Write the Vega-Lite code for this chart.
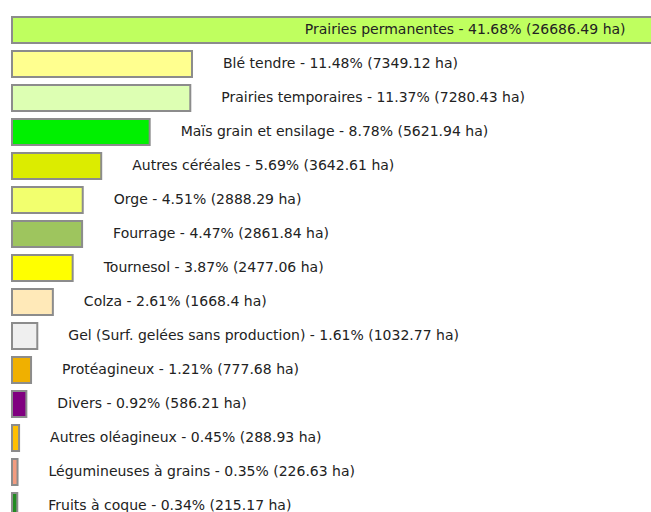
{
  "$schema": "https://vega.github.io/schema/vega-lite/v6.json",
  "width": 639,
  "height": 512,
  "padding": {"left": 12, "top": 0, "right": 0, "bottom": 0},
  "autosize": {"type": "none"},
  "background": "white",
  "config": {"view": {"stroke": null}},
  "data": {
    "values": [
      {"culture": "Prairies permanentes", "ha": 26686.49, "label": "Prairies permanentes - 41.68% (26686.49 ha)", "color": "#bfff5f"},
      {"culture": "Blé tendre", "ha": 7349.12, "label": "Blé tendre - 11.48% (7349.12 ha)", "color": "#ffff8f"},
      {"culture": "Prairies temporaires", "ha": 7280.43, "label": "Prairies temporaires - 11.37% (7280.43 ha)", "color": "#ddffb3"},
      {"culture": "Maïs grain et ensilage", "ha": 5621.94, "label": "Maïs grain et ensilage - 8.78% (5621.94 ha)", "color": "#00f000"},
      {"culture": "Autres céréales", "ha": 3642.61, "label": "Autres céréales - 5.69% (3642.61 ha)", "color": "#dcec00"},
      {"culture": "Orge", "ha": 2888.29, "label": "Orge - 4.51% (2888.29 ha)", "color": "#f2ff6e"},
      {"culture": "Fourrage", "ha": 2861.84, "label": "Fourrage - 4.47% (2861.84 ha)", "color": "#9ec55e"},
      {"culture": "Tournesol", "ha": 2477.06, "label": "Tournesol - 3.87% (2477.06 ha)", "color": "#ffff00"},
      {"culture": "Colza", "ha": 1668.4, "label": "Colza - 2.61% (1668.4 ha)", "color": "#ffe9b8"},
      {"culture": "Gel (Surf. gelées sans production)", "ha": 1032.77, "label": "Gel (Surf. gelées sans production) - 1.61% (1032.77 ha)", "color": "#efefef"},
      {"culture": "Protéagineux", "ha": 777.68, "label": "Protéagineux - 1.21% (777.68 ha)", "color": "#f0b000"},
      {"culture": "Divers", "ha": 586.21, "label": "Divers - 0.92% (586.21 ha)", "color": "#800080"},
      {"culture": "Autres oléagineux", "ha": 288.93, "label": "Autres oléagineux - 0.45% (288.93 ha)", "color": "#ffbf00"},
      {"culture": "Légumineuses à grains", "ha": 226.63, "label": "Légumineuses à grains - 0.35% (226.63 ha)", "color": "#f29c80"},
      {"culture": "Fruits à coque", "ha": 215.17, "label": "Fruits à coque - 0.34% (215.17 ha)", "color": "#228b22"}
    ]
  },
  "encoding": {
    "y": {
      "field": "culture",
      "type": "nominal",
      "sort": null,
      "axis": null,
      "scale": {"range": [17, 519], "paddingInner": 0.235, "paddingOuter": 0}
    },
    "x": {
      "field": "ha",
      "type": "quantitative",
      "axis": null,
      "scale": {"domain": [0, 26092], "nice": false, "zero": true}
    }
  },
  "layer": [
    {
      "mark": {"type": "bar", "stroke": "#8c8c8c", "strokeWidth": 2, "cornerRadius": 0},
      "encoding": {
        "color": {"field": "color", "type": "nominal", "scale": null, "legend": null}
      }
    },
    {
      "transform": [{"filter": "datum.ha < 20000"}],
      "mark": {"type": "text", "align": "left", "baseline": "middle", "dx": 31, "font": "DejaVu Sans", "fontSize": 14, "color": "#222222"},
      "encoding": {"text": {"field": "label", "type": "nominal"}}
    },
    {
      "transform": [{"filter": "datum.ha >= 20000"}],
      "mark": {"type": "text", "align": "right", "baseline": "middle", "dx": -40, "font": "DejaVu Sans", "fontSize": 14, "color": "#222222"},
      "encoding": {"text": {"field": "label", "type": "nominal"}}
    }
  ]
}
